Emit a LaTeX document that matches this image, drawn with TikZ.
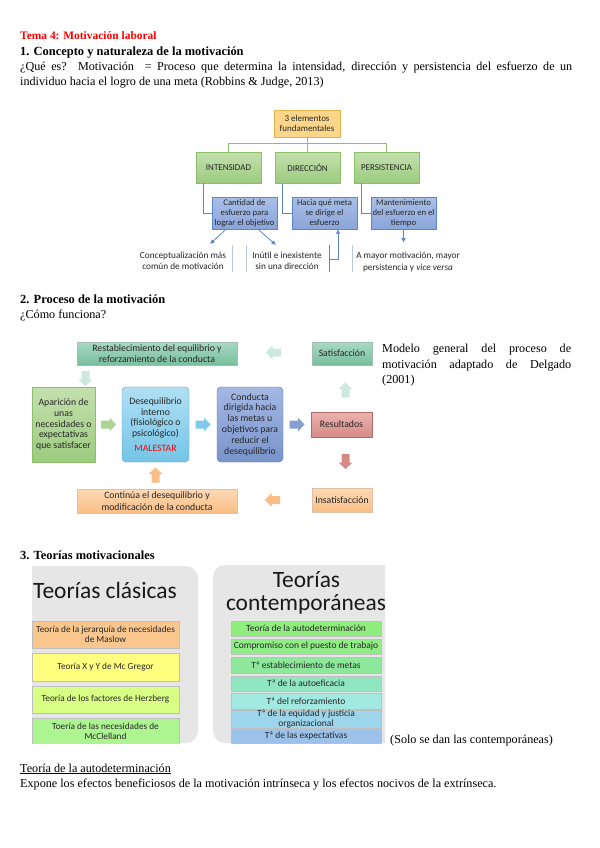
\documentclass[tikz,border=0pt]{standalone}
\usepackage{fontspec}
\setmainfont{Liberation Serif}
\newfontfamily\cfont{Carlito}
\usetikzlibrary{arrows.meta,calc}

\definecolor{orfill}{HTML}{FBD68A}
\definecolor{orline}{HTML}{E8B04A}
\definecolor{grtop}{HTML}{C4E0AE}
\definecolor{grbot}{HTML}{9CCB7E}
\definecolor{grline}{HTML}{8DBE6C}
\definecolor{butop}{HTML}{A9BFE6}
\definecolor{bubot}{HTML}{8AA5DA}
\definecolor{buline}{HTML}{5B85CC}
\definecolor{tltop}{HTML}{A9D9C3}
\definecolor{tlbot}{HTML}{78BE9E}
\definecolor{tlpale}{HTML}{CDE8DE}
\definecolor{sktop}{HTML}{B0E0F4}
\definecolor{skbot}{HTML}{74C4E6}
\definecolor{sttop}{HTML}{A3B8E2}
\definecolor{stbot}{HTML}{7994CC}
\definecolor{rdtop}{HTML}{EBB3B0}
\definecolor{rdbot}{HTML}{D68A86}
\definecolor{octop}{HTML}{FDD9B5}
\definecolor{ocbot}{HTML}{F9BE86}
\definecolor{panel}{HTML}{E6E6E6}
\definecolor{maslo}{HTML}{F9C68E}
\definecolor{mcgre}{HTML}{FFFF80}
\definecolor{herzb}{HTML}{D9FF85}
\definecolor{mccle}{HTML}{ADF591}
\definecolor{cone}{HTML}{90EE7E}
\definecolor{ctwo}{HTML}{8FEC86}
\definecolor{cthree}{HTML}{8DE89C}
\definecolor{cfour}{HTML}{8FE6C0}
\definecolor{cfive}{HTML}{A2E9E1}
\definecolor{csix}{HTML}{9DD6EC}
\definecolor{cseven}{HTML}{9CC2EC}

\tikzset{pics/blockarr/.style={code={
  \fill[#1] (-7.5,-4) -- (1,-4) -- (1,-7) -- (7.5,0) -- (1,7) -- (1,4) -- (-7.5,4) -- cycle;}}}

\begin{document}
\begin{tikzpicture}[x=1bp,y=-1bp,
  every node/.style={inner sep=0pt},
  txt/.style={anchor=base west,font=\fontsize{12.2}{15}\selectfont},
  hd/.style={txt,font=\fontsize{12.5}{15}\selectfont\bfseries},
  box/.style={draw,align=center,text=black!85,font=\cfont\fontsize{9}{10}\selectfont},
  obox/.style={box,draw=orline,fill=orfill,minimum width=66bp,minimum height=27bp},
  gbox/.style={box,draw=grline,top color=grtop,bottom color=grbot,minimum width=65bp,minimum height=31bp},
  bbox/.style={box,draw=buline,top color=butop,bottom color=bubot,minimum width=65bp,minimum height=32bp,font=\cfont\fontsize{8.7}{10}\selectfont},
  gline/.style={draw=grline,line width=0.8bp},
  bline/.style={draw=buline,line width=0.8bp},
  barr/.style={bline,-{Latex[length=4.5bp,width=4.5bp]}},
  sepline/.style={draw=buline!45,line width=0.6bp},
  note/.style={align=center,text=black!85,font=\cfont\fontsize{9.3}{11.5}\selectfont},
  pbox/.style={box,font=\cfont\fontsize{9.8}{11.5}\selectfont},
  tall/.style={minimum height=75bp,font=\cfont\fontsize{9.8}{10.8}\selectfont},
  tlbox/.style={pbox,draw=tlbot!80!black!60,top color=tltop,bottom color=tlbot},
  ocbox/.style={pbox,draw=ocbot!80!black!60,top color=octop,bottom color=ocbot},
  cbox/.style={draw=black!25,align=center,text=black!85,font=\cfont\fontsize{9.3}{10.5}\selectfont,minimum width=147bp},
  nbox/.style={draw=black!25,align=center,text=black!85,font=\cfont\fontsize{9.5}{9}\selectfont,minimum width=150bp},
  ttl/.style={text=black!90,font=\cfont\fontsize{23.5}{25}\selectfont}
]
\useasboundingbox[fill=white] (0,0) rectangle (600,848);

\node[txt,font=\fontsize{11.5}{15}\selectfont\bfseries,text=red] (tema) at (20,39) {Tema 4: Motivación laboral};
\node[hd] (sec1) at (20,55) {1. Concepto y naturaleza de la motivación};
\node[txt] (def1) at (20,70) {\makebox[552bp][s]{¿Qué es? Motivación \ = Proceso que determina la intensidad, dirección y persistencia del esfuerzo de un}};
\node[txt] (def2) at (20,85.5) {individuo hacia el logro de una meta (Robbins \& Judge, 2013)};

\node[obox] (tres) at (307,123.5) {3 elementos\\fundamentales};
\node[gbox] (inten) at (228.5,167.5) {INTENSIDAD};
\node[gbox] (direc) at (307.5,167.5) {DIRECCIÓN};
\node[gbox] (persi) at (386.5,167.5) {PERSISTENCIA};
\node[bbox] (canti) at (244.5,213) {Cantidad de\\esfuerzo para\\lograr el objetivo};
\node[bbox] (hacia) at (324.5,213) {Hacia qué meta\\se dirige el\\esfuerzo};
\node[bbox] (mante) at (403.5,213.5) {Mantenimiento\\del esfuerzo en el\\tiempo};
\draw[gline] (tres.south) -- ++(0,6) coordinate (hub);
\foreach \n in {inten,direc,persi}
  \draw[gline] (hub) -| (\n.north);
\draw[bline] ([xshift=-25.5bp]inten.south) |- (canti.west);
\draw[bline] ([xshift=-25.5bp]direc.south) |- (hacia.west);
\draw[bline] ([xshift=-25.5bp]persi.south) |- (mante.west);

\node[note] (concep) at (183,261) {Conceptualización más\\común de motivación};
\node[note] (inutil) at (287,261) {Inútil e inexistente\\sin una dirección};
\node[note] (amayor) at (408,262) {A mayor motivación, mayor\\persistencia y \emph{vice versa}};
\coordinate (c1) at (210,244);
\coordinate (c2) at (276,245);
\coordinate (brk) at (329,259);
\draw[barr] ([xshift=-18.5bp]canti.south) -- (c1);
\draw[barr] ([xshift=13.5bp]canti.south) -- (c2);
\draw[barr] (mante.south) -- ++(0,13);
\draw[sepline] (232,245) -- (232,272);
\draw[sepline] (246,245) -- (246,272);
\draw[sepline] (352,245) -- (352,272);
\draw[bline] (329,245) -- (329,272);
\draw[barr] (brk) -| ([xshift=13.5bp]hacia.south);

\node[hd] (sec2) at (20,303) {2. Proceso de la motivación};
\node[txt] (como) at (20,318.5) {¿Cómo funciona?};

\node[tlbox,minimum width=160bp,minimum height=23bp] (resta) at (157,353.5) {Restablecimiento del equilibrio y\\reforzamiento de la conducta};
\node[tlbox,minimum width=60bp,minimum height=23bp] (satis) at (342,353.5) {Satisfacción};
\node[pbox,tall,draw=grline,top color=grtop,bottom color=grbot,minimum width=63bp] (apari) at (63.5,424.5) {Aparición de\\unas\\necesidades o\\expectativas\\que satisfacer};
\node[pbox,tall,draw=skbot!80!black,top color=sktop,bottom color=skbot,rounded corners=4bp,minimum width=67bp] (deseq) at (155.5,424.5) {Desequilibrio\\interno\\(fisiológico o\\psicológico)\\[4bp]{\color{red}MALESTAR}};
\node[pbox,tall,draw=stbot!80!black,top color=sttop,bottom color=stbot,rounded corners=4bp,minimum width=66bp] (condu) at (250,424.5) {Conducta\\dirigida hacia\\las metas u\\objetivos para\\reducir el\\desequilibrio};
\node[pbox,draw=rdbot!80!black,top color=rdtop,bottom color=rdbot,minimum width=61bp,minimum height=25bp] (resul) at (341.5,424.5) {Resultados};
\node[ocbox,minimum width=60bp,minimum height=24bp] (insat) at (342,500) {Insatisfacción};
\node[ocbox,minimum width=160bp,minimum height=24bp] (conti) at (157,501) {Continúa el desequilibrio y\\modificación de la conducta};

\pic[rotate=180] (ar1) at (273.5,352.5) {blockarr=tlpale};
\pic[rotate=-90] (ar2) at (85.5,378.5) {blockarr=tlpale};
\pic (ar3) at ($(apari.east)!0.5!(deseq.west)$) {blockarr=grbot!85};
\pic (ar4) at ($(deseq.east)!0.5!(condu.west)$) {blockarr=skbot!90};
\pic (ar5) at ($(condu.east)!0.5!(resul.west)$) {blockarr=stbot!90};
\pic[rotate=90] (ar6) at (345.5,390) {blockarr=tlpale};
\pic[rotate=-90] (ar7) at (345.5,461.5) {blockarr=rdbot};
\pic[rotate=180] (ar8) at (272.5,500) {blockarr=ocbot};
\pic[rotate=90] (ar9) at (155.5,475) {blockarr=ocbot};

\node[txt] (cap1) at (382,352.5) {\makebox[189bp][s]{Modelo general del proceso de}};
\node[txt] (cap2) at (382,368) {\makebox[189bp][s]{motivación adaptado de Delgado}};
\node[txt] (cap3) at (382,383.5) {(2001)};

\node[hd] (sec3) at (20,559) {3. Teorías motivacionales};

\begin{scope}
  \clip (32,566) rectangle (198,743);
  \fill[panel,rounded corners=12bp] (10,566) rectangle (198,743);
  \node[ttl,anchor=base west] (clasi) at (33,598) {Teorías clásicas};
  \node[cbox,fill=maslo,minimum height=27bp] (maslow) at (105.5,634.5) {Teoría de la jerarquía de necesidades\\de Maslow};
  \node[cbox,fill=mcgre,minimum height=28bp] (mcgreg) at (105.5,667) {Teoría X y Y de Mc Gregor};
  \node[cbox,fill=herzb,minimum height=27bp] (herzbe) at (105.5,699.5) {Teoría de los factores de Herzberg};
  \node[cbox,fill=mccle,minimum height=27bp] (mcclel) at (105.5,731.5) {Toería de las necesidades de\\McClelland};
\end{scope}

\begin{scope}
  \clip (213,565) rectangle (385,743);
  \fill[panel,rounded corners=12bp] (213,565) rectangle (410,743);
  \node[ttl,anchor=base] (conte1) at (306.5,587) {Teorías};
  \node[ttl,anchor=base] (conte2) at (306,610) {contemporáneas};
  \node[nbox,fill=cone,minimum height=15bp] (autod) at (306,628.5) {Teoría de la autodeterminación};
  \node[nbox,fill=ctwo,minimum height=15bp] (compr) at (306,646.5) {Compromiso con el puesto de trabajo};
  \node[nbox,fill=cthree,minimum height=16bp] (metas) at (306,665) {Tª establecimiento de metas};
  \node[nbox,fill=cfour,minimum height=15bp] (autoe) at (306,683.5) {Tª de la autoeficacia};
  \node[nbox,fill=cfive,minimum height=16bp] (refor) at (306,701) {Tª del reforzamiento};
  \node[nbox,fill=csix,minimum height=16bp,font=\cfont\fontsize{9.5}{8}\selectfont] (equid) at (306,719) {Tª de la equidad y justicia\\organizacional};
  \node[nbox,fill=cseven,minimum height=14bp] (expec) at (306,736) {Tª de las expectativas};
\end{scope}

\node[txt] (solo) at (390,743) {(Solo se dan las contemporáneas)};
\node[txt] (autot) at (20,772) {\underline{Teoría de la autodeterminación}};
\node[txt] (expon) at (20,787.5) {Expone los efectos beneficiosos de la motivación intrínseca y los efectos nocivos de la extrínseca.};
\end{tikzpicture}
\end{document}
